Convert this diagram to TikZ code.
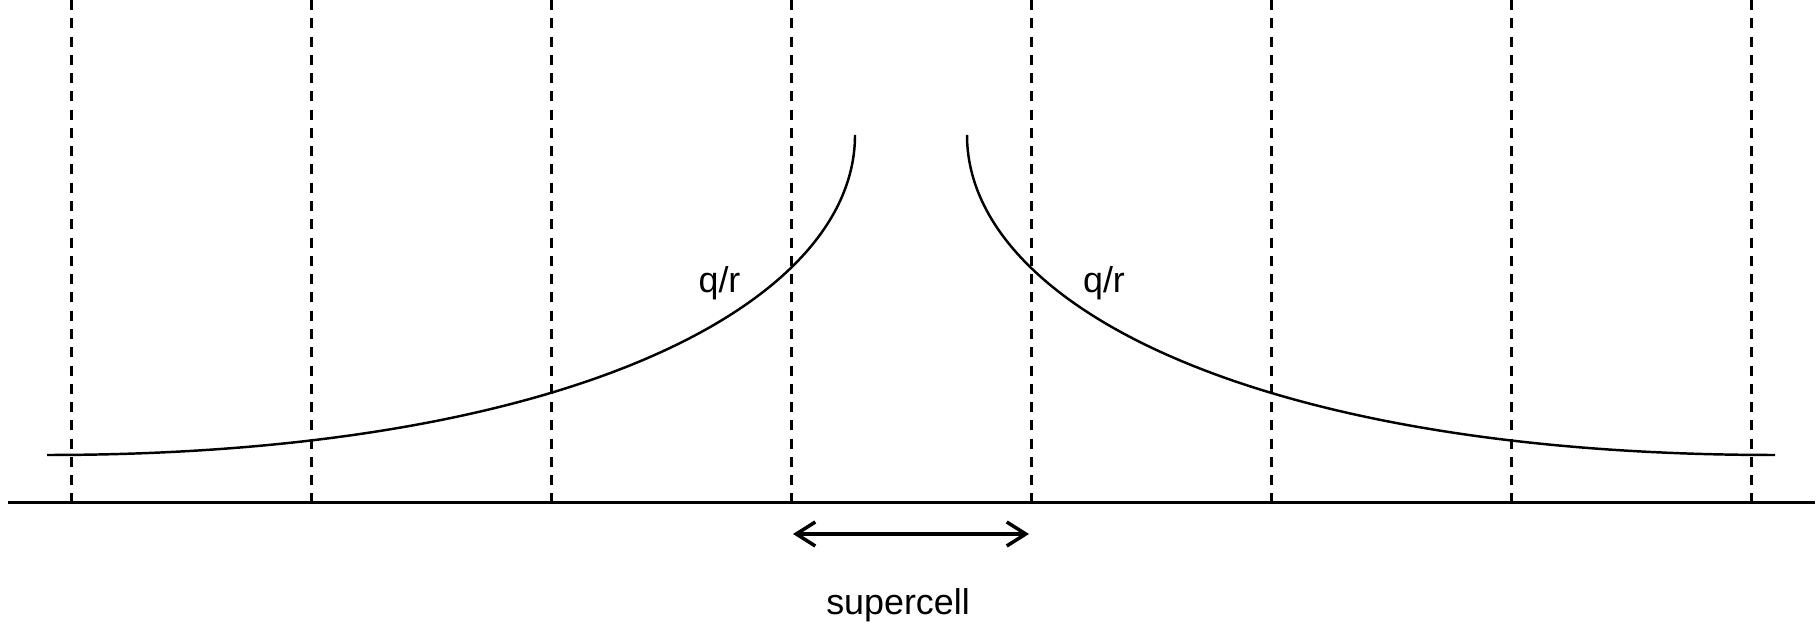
\documentclass[tikz,border=0pt]{standalone}
\usepackage{fontspec}
\setmainfont{Liberation Sans}
\usepackage{tikz}
\usetikzlibrary{positioning, arrows.meta, calc}

\begin{document}
\begin{tikzpicture}[
  axis/.style={line width=0.65pt, black},
  cellline/.style={line width=0.6pt, black, dash pattern=on 2.85pt off 2.35pt},
  pot/.style={line width=0.7pt, black},
  span/.style={{Straight Barb[length=1.9mm, width=2.4mm]}-{Straight Barb[length=1.9mm, width=2.4mm]}, line width=1pt, black},
  lbl/.style={font=\fontsize{10.2}{12}\selectfont, inner sep=0pt, anchor=base},
]
  \useasboundingbox (0,0) rectangle (18.19,6.27);

  \coordinate (al) at (0.08,1.245);
  \coordinate (ar) at (18.15,1.245);
  \draw[axis] (al) -- (ar);

  \foreach \i in {0,...,7} {
    \coordinate (t\i) at ({0.715+2.4*\i},6.27);
    \coordinate (b\i) at ({0.715+2.4*\i},1.245);
    \draw[cellline] (t\i) -- (b\i);
  }

  \coordinate (lo) at (0.47,1.72);
  \coordinate (lt) at (8.55,4.92);
  \coordinate (rt) at (9.67,4.92);
  \coordinate (ro) at (17.75,1.72);
  \draw[pot] (lo) .. controls (5.67,1.72) and (8.55,3.22) .. (lt);
  \draw[pot] (rt) .. controls (9.67,3.22) and (12.55,1.72) .. (ro);

  \node[lbl] (ql) at (7.195,3.343) {q/r};
  \node[lbl] (qr) at (11.04,3.343) {q/r};

  \coordinate (sl) at (7.93,0.93);
  \coordinate (sr) at (10.29,0.93);
  \draw[span] (sl) -- (sr);
  \node[lbl] (sc) at (8.98,0.12) {supercell};
\end{tikzpicture}
\end{document}
